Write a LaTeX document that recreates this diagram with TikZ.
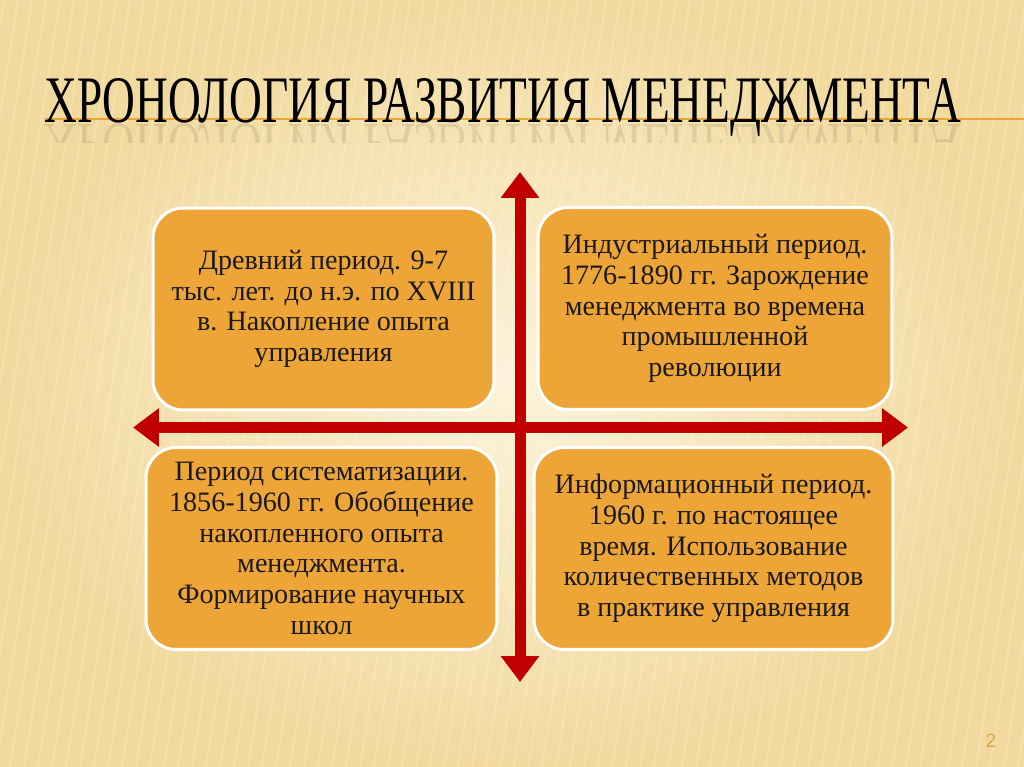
\documentclass[tikz,border=0pt]{standalone}
\usepackage{fontspec}
\setmainfont{Liberation Serif}
\newfontfamily\pagefont{Liberation Sans}
\usepackage{graphicx}
\usetikzlibrary{arrows.meta, positioning}

\definecolor{paperlight}{HTML}{FCF3DA}
\definecolor{paperdark}{HTML}{F2DA9E}
\definecolor{periodfill}{HTML}{EEA537}
\definecolor{axisred}{HTML}{C00000}
\definecolor{rulegold}{HTML}{E9A536}
\definecolor{pagegold}{HTML}{D9A64A}

\tikzset{
    period/.style = {draw=white, line width=0.06cm, fill=periodfill,
        rounded corners=0.6cm, minimum height=4.04cm, align=center,
        font=\fontsize{16}{17.5}\selectfont, text=black!90},
    axis/.style = {draw=axisred, line width=0.22cm,
        {Triangle[width=0.74cm, length=0.52cm]}-{Triangle[width=0.74cm, length=0.52cm]}},
    stripe/.style = {white, opacity=0.16, line width=0.04cm}
}

\newcommand{\titletext}{ХРОНОЛОГИЯ РАЗВИТИЯ МЕНЕДЖМЕНТА}

\begin{document}
\begin{tikzpicture}[x=0.02cm, y=-0.02cm]
    % background
    \useasboundingbox (0,0) rectangle (1024,767);
    \shade[inner color=paperlight, outer color=paperdark] (0,0) rectangle (1024,767);
    \begin{scope}
        \clip (0,0) rectangle (1024,767);
        \foreach \x in {-200,-186,...,1024}
            \draw[stripe] (\x,767) -- (\x+120,0);
    \end{scope}

    % title
    \draw[rulegold, line width=0.05cm] (45,119) -- (1024,119);
    \node[anchor=base west, inner sep=0] (title) at (44,122)
        {\resizebox{18.34cm}{0.88cm}{\titletext}};
    \begin{scope}
        \clip (40,124) rectangle (975,142);
        \node[anchor=base west, inner sep=0, opacity=0.09] (mirror) at (44,125)
            {\scalebox{1}[-1]{\resizebox{18.34cm}{0.88cm}{\titletext}}};
    \end{scope}

    % periods
    \node[period, minimum width=6.82cm] (ancient) at (323.5,309)
        {Древний период. 9-7\\тыс. лет. до н.э. по XVIII\\в. Накопление опыта\\управления};
    \node[period, minimum width=7.08cm] (industrial) at (715,308.5)
        {Индустриальный период.\\1776-1890 гг. Зарождение\\менеджмента во времена\\промышленной\\революции};
    \node[period, minimum width=7.02cm] (system) at (321.5,548.5)
        {Период систематизации.\\1856-1960 гг. Обобщение\\накопленного опыта\\менеджмента.\\Формирование научных\\школ};
    \node[period, minimum width=7.18cm] (info) at (713.5,548.5)
        {Информационный период.\\1960 г. по настоящее\\время. Использование\\количественных методов\\в практике управления};

    % axes
    \coordinate (top) at (520,172);
    \coordinate (bottom) at (520,682);
    \coordinate (left) at (133,427.5);
    \coordinate (right) at (908,427.5);
    \draw[axis] (bottom) -- (top);
    \draw[axis] (left) -- (right);

    \node[text=pagegold, font=\pagefont\fontsize{11}{12}\selectfont] (page) at (991,741) {2};
\end{tikzpicture}
\end{document}
